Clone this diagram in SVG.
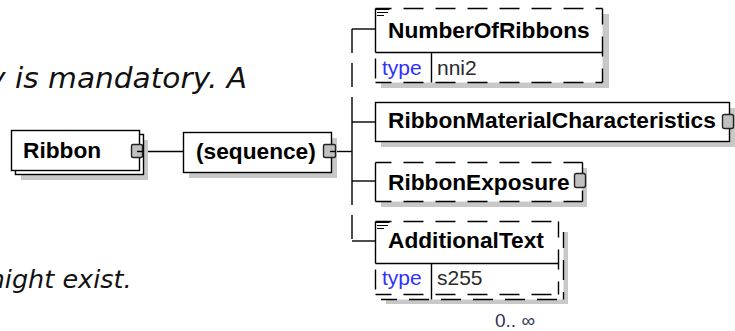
<svg xmlns="http://www.w3.org/2000/svg" width="735" height="331" viewBox="0 0 735 331">
<style>
.bg{fill:#ffffff}
.sh{fill:#c8c8c8}
.box{fill:#ffffff;stroke:#000;stroke-width:1.4}
.dash{fill:none;stroke:#000;stroke-width:1.4;stroke-dasharray:20 12}
.ln{fill:none;stroke:#000;stroke-width:1.4}
.sp{fill:none;stroke:#000;stroke-width:1.4;stroke-dasharray:24 10}
.port{fill:#c0c0c0;stroke:#222;stroke-width:1.4}
.nm{font-family:"Liberation Sans",Arial,sans-serif;font-weight:bold;font-size:22.7px;fill:#000}
.tp{font-family:"Liberation Sans",Arial,sans-serif;font-size:21px;fill:#3030ff}
.tv{font-family:"Liberation Sans",Arial,sans-serif;font-size:21px;fill:#2a2a2a}
.it{font-family:"DejaVu Sans",Verdana,sans-serif;font-style:italic;fill:#111}
.oc{font-family:"Liberation Sans",Arial,sans-serif;font-size:19px;fill:#333355}
.ic{fill:none;stroke:#000;stroke-width:1}
</style>
<rect class="bg" x="0" y="0" width="735" height="331"/>
<text class="it" x="-12" y="88" font-size="28.5" textLength="259" lengthAdjust="spacingAndGlyphs">y is mandatory. A</text>
<text class="it" x="-20" y="288" font-size="25.5">might exist.</text>

<g id="connectors">
<line class="ln" x1="137" y1="151.5" x2="183" y2="151.5"/>
<line class="ln" x1="330" y1="151.5" x2="352" y2="151.5"/>
<line class="sp" x1="352" y1="29" x2="352" y2="122"/>
<line class="ln" x1="352" y1="121" x2="352" y2="181"/>
<line class="sp" x1="352" y1="181" x2="352" y2="241"/>
<line class="ln" x1="352" y1="29" x2="375" y2="29"/>
<line class="ln" x1="352" y1="122" x2="375" y2="122"/>
<line class="ln" x1="352" y1="181" x2="375" y2="181"/>
<line class="ln" x1="352" y1="241" x2="375" y2="241"/>
</g>

<g id="node-ribbon">
<rect class="sh" x="21" y="140" width="127" height="40"/>
<rect class="box" x="15.5" y="134.5" width="128" height="40"/>
<rect class="box" x="11.5" y="130.5" width="128" height="40"/>
<text class="nm" x="23" y="158">Ribbon</text>
<rect class="port" x="131.5" y="144.5" width="11" height="13" rx="1.5"/>
<line class="ln" x1="137" y1="151.5" x2="143" y2="151.5"/>
</g>

<g id="node-sequence">
<rect class="sh" x="189" y="138" width="148" height="40"/>
<rect class="box" x="183.5" y="132.5" width="148" height="40"/>
<text class="nm" x="196" y="159">(sequence)</text>
<rect class="port" x="323.5" y="144.5" width="12" height="13" rx="1.5"/>
<line class="ln" x1="330" y1="151.5" x2="336" y2="151.5"/>
</g>

<g id="node-numberofribbons">
<rect class="sh" x="381" y="14" width="228" height="74"/>
<rect class="bg" x="375.5" y="8.5" width="227" height="74"/>
<line class="dash" x1="375.5" y1="8.5" x2="602.5" y2="8.5" stroke-dashoffset="4"/>
<line class="dash" x1="602.5" y1="8.5" x2="602.5" y2="82.5" stroke-dashoffset="4"/>
<line class="dash" x1="375.5" y1="82.5" x2="602.5" y2="82.5" stroke-dashoffset="4"/>
<line class="ln" x1="375.5" y1="8.5" x2="375.5" y2="52.5"/>
<line class="dash" x1="375.5" y1="52.5" x2="375.5" y2="82.5" stroke-dashoffset="26"/>
<line class="ln" x1="375.5" y1="52.5" x2="602.5" y2="52.5"/>
<line class="ln" x1="431.5" y1="52.5" x2="431.5" y2="82.5"/>
<path class="ic" d="M375.5 9.5H389.5M377 12.5H388M377 15.5H384"/>
<text class="nm" x="388" y="38">NumberOfRibbons</text>
<text class="tp" x="382" y="75">type</text>
<text class="tv" x="437" y="75">nni2</text>
</g>

<g id="node-ribbonmaterialcharacteristics">
<rect class="sh" x="381" y="108" width="354" height="39"/>
<rect class="box" x="375.5" y="102.5" width="354" height="39"/>
<text class="nm" x="388" y="128">RibbonMaterialCharacteristics</text>
<rect class="port" x="722.5" y="114.5" width="11" height="14" rx="2"/>
</g>

<g id="node-ribbonexposure">
<rect class="sh" x="381" y="168" width="206" height="39"/>
<rect class="bg" x="375.5" y="162.5" width="207" height="39"/>
<line class="dash" x1="375.5" y1="162.5" x2="582.5" y2="162.5" stroke-dashoffset="4"/>
<line class="dash" x1="582.5" y1="162.5" x2="582.5" y2="201.5" stroke-dashoffset="4"/>
<line class="dash" x1="375.5" y1="201.5" x2="582.5" y2="201.5" stroke-dashoffset="4"/>
<line class="ln" x1="375.5" y1="162.5" x2="375.5" y2="201.5"/>
<text class="nm" x="388" y="190">RibbonExposure</text>
<rect class="port" x="574.5" y="173.5" width="11" height="14" rx="2"/>
</g>

<g id="node-additionaltext">
<rect class="sh" x="386" y="232" width="182" height="72"/>
<rect class="bg" x="380.5" y="226.5" width="183" height="73"/>
<line class="dash" x1="563.5" y1="232" x2="563.5" y2="299.5" stroke-dashoffset="4"/>
<line class="dash" x1="381" y1="299.5" x2="563.5" y2="299.5" stroke-dashoffset="4"/>
<rect class="bg" x="375.5" y="221.5" width="183" height="73"/>
<line class="dash" x1="375.5" y1="221.5" x2="558.5" y2="221.5" stroke-dashoffset="4"/>
<line class="dash" x1="558.5" y1="221.5" x2="558.5" y2="294.5" stroke-dashoffset="4"/>
<line class="dash" x1="375.5" y1="294.5" x2="558.5" y2="294.5" stroke-dashoffset="4"/>
<line class="ln" x1="375.5" y1="221.5" x2="375.5" y2="263.5"/>
<line class="dash" x1="375.5" y1="263.5" x2="375.5" y2="294.5" stroke-dashoffset="26"/>
<line class="ln" x1="375.5" y1="263.5" x2="558.5" y2="263.5"/>
<line class="ln" x1="431.5" y1="263.5" x2="431.5" y2="299.5"/>
<path class="ic" d="M375.5 222.5H389.5M377 225.5H388M377 228.5H384"/>
<text class="nm" x="388" y="248">AdditionalText</text>
<text class="tp" x="382" y="285">type</text>
<text class="tv" x="437" y="285">s255</text>
<text class="oc" x="495" y="327">0.. ∞</text>
</g>
</svg>
